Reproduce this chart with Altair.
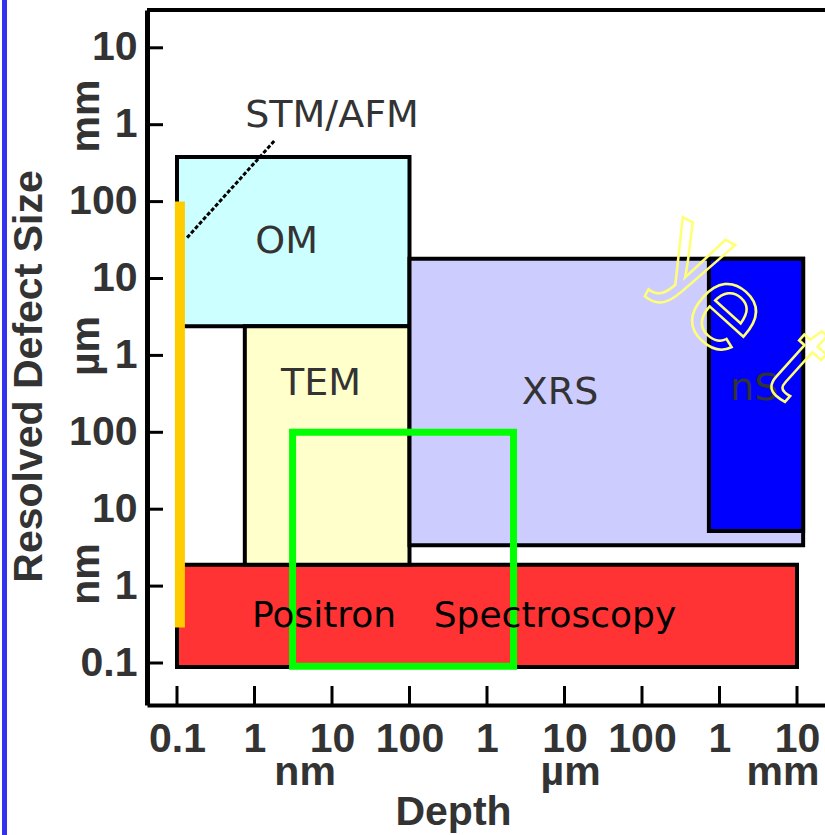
import math
import altair as alt
import pandas as pd

# ---------------- data (all lengths in nm) ----------------
box_names = ["Positron", "OM", "TEM", "XRS", "nS"]
box_depth_lo = [0.1, 0.1, 0.75, 100, 7.3e5]
box_depth_hi = [1.0e7, 100, 100, 1.2e7, 1.2e7]
box_size_lo = [0.089, 2400, 1.9, 3.4, 5.2]
box_size_hi = [1.9, 3.8e5, 2400, 1.8e4, 1.8e4]
box_colors = ["#FF3333", "#CCFFFF", "#FFFFCC", "#CCCCFF", "#0000FF"]

green_depth = [3.1, 2200]
green_size = [0.091, 100]

stm_depth = [0.135, 1.84]
stm_size = [3.4e4, 6.3e5]

bar_depth = [0.109]
bar_size_lo = [0.29]
bar_size_hi = [1.0e5]

label_text = ["STM/AFM", "OM", "TEM", "XRS", "nS"]
label_depth = [10, 2.6, 7.2, 8750, 2.8e6]
label_size = [1.3e6, 3.0e4, 425, 324, 366]

pos_text = ["Positron", "Spectroscopy"]
pos_depth = [7.9, 7540]
pos_size = [0.41, 0.41]

tick_nm = [0.1, 1, 10, 100, 1e3, 1e4, 1e5, 1e6, 1e7]
tick_labels = ["0.1", "1", "10", "100", "1", "10", "100", "1", "10"]
unit_names = ["nm", "µm", "mm"]
x_unit_pos = [4.5, 1.2e4, 6.6e6]
y_unit_pos = [1.44, 1325, 1.3e6]

yet_letters = ["y", "e", "t"]
yet_depth = [5.0e5, 1.25e6, 1.0e7]
yet_size = [2.0e4, 3560, 750]
yet_angle = [28, 42, 42]

# ---------------- layout ----------------
W, H = 678, 695
F = "Liberation Sans"
F2 = "DejaVu Sans"
GREY = "#333333"

x_dom = [10 ** (-1 - 30 / 77.5), 10 ** (-1 + 648 / 77.5)]
y_dom = [10 ** (-1 - 42 / 76.9), 10 ** (-1 + 653 / 76.9)]
xs = alt.Scale(type="log", domain=x_dom, nice=False)
ys = alt.Scale(type="log", domain=y_dom, nice=False)


def label_expr(values, labels):
    expr = "''"
    for v, lab in reversed(list(zip(values, labels))):
        expr = f"(abs(log(datum.value)/LN10 - ({math.log10(v)})) < 0.01 ? '{lab}' : {expr})"
    return expr


LE = label_expr(tick_nm, tick_labels)

xaxis = alt.Axis(values=tick_nm, labelExpr=LE, ticks=False, tickSize=0, grid=False,
                 domainColor="black", domainWidth=4,
                 labelFont=F, labelFontSize=41, labelFontWeight="bold", labelColor=GREY,
                 labelPadding=14, labelOverlap=False, labelFlush=False,
                 title="Depth", titleFont=F, titleFontSize=41, titleFontWeight="bold",
                 titleColor=GREY, titleX=306, titleY=107, titleAlign="center",
                 titleBaseline="middle")
yaxis = alt.Axis(values=tick_nm, labelExpr=LE, ticks=False, tickSize=0, grid=False,
                 domainColor="black", domainWidth=5,
                 labelFont=F, labelFontSize=41, labelFontWeight="bold", labelColor=GREY,
                 labelPadding=10, labelOverlap=False, labelFlush=False,
                 title="Resolved Defect Size", titleFont=F, titleFontSize=41,
                 titleFontWeight="bold", titleColor=GREY, titleAngle=270,
                 titleX=-118, titleY=366, titleAlign="center", titleBaseline="middle")


def X(field):
    return alt.X(field, scale=xs, axis=xaxis)


def Y(field):
    return alt.Y(field, scale=ys, axis=yaxis)


one = pd.DataFrame({"a": [0]})
ticks_df = pd.DataFrame({"v": tick_nm})

blue_line = alt.Chart(one).mark_rule(color="#3333EE", strokeWidth=5).encode(
    x=alt.value(-142.5), y=alt.value(-10), y2=alt.value(830))

xticks = alt.Chart(ticks_df).mark_rule(color="black", strokeWidth=3).encode(
    x=X("v:Q"), y=alt.value(676), y2=alt.value(695))
yticks = alt.Chart(ticks_df).mark_rule(color="black", strokeWidth=3).encode(
    y=Y("v:Q"), x=alt.value(0), x2=alt.value(16))

boxes_df = pd.DataFrame({"name": box_names, "d0": box_depth_lo, "d1": box_depth_hi,
                         "s0": box_size_lo, "s1": box_size_hi})
boxes = alt.Chart(boxes_df).mark_rect(stroke="black", strokeWidth=4).encode(
    x=X("d0:Q"), x2="d1:Q", y=Y("s0:Q"), y2="s1:Q",
    fill=alt.Fill("name:N", scale=alt.Scale(domain=box_names, range=box_colors), legend=None))

green_df = pd.DataFrame({"d0": [green_depth[0]], "d1": [green_depth[1]],
                         "s0": [green_size[0]], "s1": [green_size[1]]})
green = alt.Chart(green_df).mark_rect(fillOpacity=0, stroke="#00FF00", strokeWidth=7).encode(
    x=X("d0:Q"), x2="d1:Q", y=Y("s0:Q"), y2="s1:Q")

bar_df = pd.DataFrame({"d": bar_depth, "s0": bar_size_lo, "s1": bar_size_hi})
bar = alt.Chart(bar_df).mark_rule(color="#FFCC00", strokeWidth=10, strokeCap="butt").encode(
    x=X("d:Q"), y=Y("s0:Q"), y2="s1:Q")

stm_df = pd.DataFrame({"d": stm_depth, "s": stm_size})
stm = alt.Chart(stm_df).mark_line(color="black", strokeWidth=3, strokeDash=[4, 2]).encode(
    x=X("d:Q"), y=Y("s:Q"))

lab_df = pd.DataFrame({"t": label_text, "d": label_depth, "s": label_size})
labels = alt.Chart(lab_df).mark_text(font=F2, fontSize=38, color=GREY,
                                     baseline="middle", align="center").encode(
    x=X("d:Q"), y=Y("s:Q"), text="t:N")

pos_df = pd.DataFrame({"t": pos_text, "d": pos_depth, "s": pos_size})
pos_labels = alt.Chart(pos_df).mark_text(font=F2, fontSize=36, color="black",
                                         baseline="middle", align="center").encode(
    x=X("d:Q"), y=Y("s:Q"), text="t:N")

xu_df = pd.DataFrame({"t": unit_names, "d": x_unit_pos})
x_units = alt.Chart(xu_df).mark_text(font=F, fontSize=41, fontWeight="bold", color=GREY,
                                     baseline="middle", align="center").encode(
    x=X("d:Q"), y=alt.value(763), text="t:N")

yu_df = pd.DataFrame({"t": unit_names, "s": y_unit_pos})
y_units = alt.Chart(yu_df).mark_text(font=F, fontSize=41, fontWeight="bold", color=GREY,
                                     baseline="middle", align="center", angle=270).encode(
    y=Y("s:Q"), x=alt.value(-60), text="t:N")

yet_df = pd.DataFrame({"t": yet_letters, "d": yet_depth, "s": yet_size, "a": yet_angle})
yet = alt.Chart(yet_df).mark_text(font=F, fontSize=120, fillOpacity=0, stroke="#FFFF77",
                                  strokeWidth=2.5, baseline="middle",
                                  align="center").encode(
    x=X("d:Q"), y=Y("s:Q"), text="t:N",
    angle=alt.Angle("a:Q", scale=None))

frame = alt.Chart(one).mark_rule(color="black", strokeWidth=4).encode(
    x=alt.value(0), x2=alt.value(W), y=alt.value(0))

chart = alt.layer(
    blue_line, xticks, yticks, boxes, green, bar, stm, labels, pos_labels,
    x_units, y_units, yet, frame
).properties(
    width=W, height=H,
    autosize=alt.AutoSizeParams(type="none"),
    padding={"left": 147, "top": 10, "right": 0, "bottom": 130},
    background="white",
).configure_view(strokeWidth=0)

chart.save("out.html", embed_options={"renderer": "svg", "actions": False})
